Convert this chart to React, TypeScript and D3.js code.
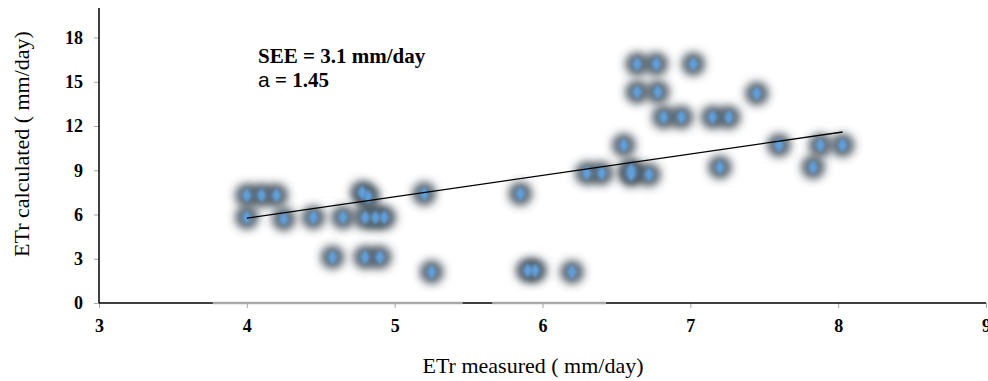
import { useRef, useEffect } from 'react';
import * as d3 from 'd3';

// measured vs calculated ETr (mm/day)
const measured = [
  4.0, 4.1, 4.2, 4.0, 4.25, 4.45, 4.65, 4.8, 4.87, 4.93,
  4.78, 4.82, 5.2, 5.85, 4.58, 4.8, 4.9,
  5.25, 5.9, 5.95, 6.2,
  6.3, 6.4, 6.55, 6.6, 6.6, 6.72,
  6.64, 6.77, 7.02, 6.64, 6.78,
  6.82, 6.94, 7.15, 7.26,
  7.45, 7.2, 7.6, 7.83, 7.88, 8.03,
];
const calculated = [
  7.3, 7.3, 7.3, 5.8, 5.7, 5.8, 5.8, 5.8, 5.8, 5.8,
  7.5, 7.2, 7.4, 7.4, 3.1, 3.1, 3.1,
  2.1, 2.2, 2.2, 2.1,
  8.8, 8.8, 10.7, 9.0, 8.7, 8.7,
  16.2, 16.2, 16.2, 14.3, 14.3,
  12.6, 12.6, 12.6, 12.6,
  14.2, 9.2, 10.7, 9.2, 10.7, 10.7,
];
const xTicks = [3, 4, 5, 6, 7, 8, 9];
const yTicks = [0, 3, 6, 9, 12, 15, 18];
// linear trend: calculated = slope * measured + intercept
const slope = 1.45;
const intercept = -0.05;
// grey strips lying on the x axis in the original image
const axisStrips = [[3.77, 5.46], [5.66, 6.43]];

const serif = '"Liberation Serif", "Times New Roman", serif';

function App() {
  const svgRef = useRef<SVGSVGElement>(null);

  useEffect(() => {
    const width = 988;
    const height = 381;
    const margin = { top: 8, right: 2, bottom: 78, left: 99 };
    const innerWidth = width - margin.left - margin.right;
    const innerHeight = height - margin.top - margin.bottom;

    const root = d3.select(svgRef.current);
    root.selectAll('*').remove();
    root.attr('width', width).attr('height', height);

    const defs = root.append('defs');
    const blur = (id: string, sd: number) =>
      defs.append('filter').attr('id', id).attr('x', '-1').attr('y', '-1').attr('width', '3').attr('height', '3')
        .append('feGaussianBlur').attr('stdDeviation', sd);
    blur('glow', 4);
    blur('soft', 2.6);
    blur('soft1', 1.1);

    const svg = root.append('g').attr('transform', `translate(${margin.left},${margin.top})`);

    const x = d3.scaleLinear().domain([3, 9]).range([0, innerWidth]);
    const y = d3.scaleLinear().domain([0, 20]).range([innerHeight, 0]);

    const pts = measured.map((m, i) => ({ m, c: calculated[i] }));

    // blurred halo around each marker
    svg.append('g').selectAll('circle')
      .data(pts)
      .enter()
      .append('circle')
      .attr('cx', d => x(d.m))
      .attr('cy', d => y(d.c))
      .attr('r', 12)
      .attr('fill', '#303b46')
      .attr('fill-opacity', 0.78)
      .attr('filter', 'url(#glow)');

    svg.append('g').selectAll('circle')
      .data(pts)
      .enter()
      .append('circle')
      .attr('cx', d => x(d.m))
      .attr('cy', d => y(d.c))
      .attr('r', 7)
      .attr('fill', '#6a8fb4')
      .attr('fill-opacity', 0.7)
      .attr('filter', 'url(#soft)');

    const diamond = d3.symbol().type(d3.symbolDiamond).size(55);
    svg.append('g').selectAll('path')
      .data(pts)
      .enter()
      .append('path')
      .attr('transform', d => `translate(${x(d.m)},${y(d.c)})`)
      .attr('d', diamond)
      .attr('fill', '#5f9fdc')
      .attr('filter', 'url(#soft1)');

    // trend line over the data range
    const [xMin, xMax] = d3.extent(measured) as [number, number];
    const line = d3.line<number>().x(v => x(v)).y(v => y(slope * v + intercept));
    svg.append('path')
      .datum([xMin, xMax])
      .attr('d', line)
      .attr('fill', 'none')
      .attr('stroke', '#000')
      .attr('stroke-width', 1.3);

    // axes
    const xAxis = svg.append('g').attr('transform', `translate(0,${innerHeight})`)
      .call(d3.axisBottom(x).tickValues(xTicks).tickSize(5).tickPadding(11).tickFormat(d3.format('d')));
    const yAxis = svg.append('g')
      .call(d3.axisLeft(y).tickValues(yTicks).tickSize(5).tickPadding(11).tickFormat(d3.format('d')));

    [xAxis, yAxis].forEach(a => {
      a.select('.domain').remove();
      a.selectAll('.tick line').attr('stroke', '#a6a6a6');
      a.selectAll('.tick text')
        .attr('fill', '#000')
        .style('font-family', serif)
        .style('font-weight', 'bold')
        .style('font-size', '18px');
    });

    svg.append('line').attr('x1', 0).attr('x2', 0).attr('y1', 0).attr('y2', innerHeight)
      .attr('stroke', '#000').attr('stroke-width', 1.5);
    svg.append('line').attr('x1', 0).attr('x2', innerWidth).attr('y1', innerHeight).attr('y2', innerHeight)
      .attr('stroke', '#000').attr('stroke-width', 1.5);

    svg.append('g').selectAll('line')
      .data(axisStrips)
      .enter()
      .append('line')
      .attr('x1', d => x(d[0]))
      .attr('x2', d => x(d[1]))
      .attr('y1', innerHeight)
      .attr('y2', innerHeight)
      .attr('stroke', '#a8a8a8')
      .attr('stroke-width', 2.5);

    // titles
    root.append('text')
      .attr('x', 533)
      .attr('y', 373)
      .attr('text-anchor', 'middle')
      .style('font-family', serif)
      .style('font-size', '22px')
      .text('ETr measured ( mm/day)');

    root.append('text')
      .attr('transform', 'translate(29,144) rotate(-90)')
      .attr('text-anchor', 'middle')
      .style('font-family', serif)
      .style('font-size', '22px')
      .text('ETr calculated ( mm/day)');

    // annotation
    const note = root.append('g')
      .style('font-family', serif)
      .style('font-weight', 'bold')
      .style('font-size', '21px');
    note.append('text').attr('x', 258).attr('y', 63).text('SEE = 3.1 mm/day');
    const a = note.append('text').attr('x', 258).attr('y', 87);
    a.append('tspan')
      .style('font-family', '"Liberation Sans", Arial, sans-serif')
      .style('font-weight', 'normal')
      .text('a');
    a.append('tspan').text(' = 1.45');
  }, []);

  return (
    <div style={{ position: 'absolute', left: 0, top: 0, background: '#fff' }}>
      <svg ref={svgRef}></svg>
    </div>
  );
}

export default App;
